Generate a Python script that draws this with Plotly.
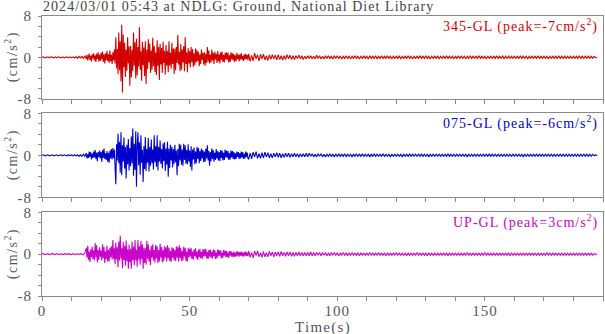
import numpy as np
import plotly.graph_objects as go

# Sampling of the listed values: pre-event 0-14.5 s every 0.5 s,
# main shaking 15-69.75 s every 0.25 s, coda 70-188 s every 0.5 s
PRE_T0, PRE_DT = 0.0, 0.5
MAIN_T0, MAIN_DT = 15.0, 0.25
CODA_T0, CODA_DT = 70.0, 0.5

# ---------------- 345-GL (cm/s^2) ----------------
ns_pre = [
    0.0, 0.1, -0.1, 0.0, 0.1, -0.1, 0.1, 0.0, -0.1, 0.1,
    -0.1, 0.1, 0.0, -0.1, 0.1, -0.1, 0.0, 0.1, -0.1, 0.1,
    -0.1, 0.1, -0.1, 0.1, -0.2, 0.2, -0.1, 0.2, -0.2, 0.3,
]
ns_main = [
    -0.3, 0.5, -0.6, 0.2, 0.7, -0.5, 0.3, -0.8, 0.6, -0.2,
    0.8, -0.6, 0.4, -0.9, 0.7, -0.3, 1.0, -0.8, 0.5, -0.7,
    0.9, -0.4, 1.1, -0.9, 0.6, -1.2, 0.8, -0.5, 1.2, -0.7,
    0.6, -1.1, 1.3, -0.8, 0.5, -1.3, 1.0, -0.6, 1.5, -1.2,
    3.9, -2.1, 1.6, -3.2, 4.8, -2.5, 3.1, -4.6, 6.3, -6.8,
    4.4, -1.9, 2.8, -3.8, 1.5, -2.6, 3.9, -1.2, 2.1, -5.5,
    2.2, -3.9, 1.4, -2.7, 4.8, -1.6, 2.9, -4.1, 3.6, -3.5,
    2.0, -1.8, 5.8, -2.4, 1.2, -4.5, 3.0, -1.5, 1.9, -3.6,
    3.1, -5.2, 1.5, -2.2, 3.5, -1.0, 2.7, -3.0, 1.3, -2.4,
    3.8, -1.7, 2.2, -2.9, 1.0, -3.4, 3.3, -1.6, 2.0, -4.4,
    2.6, -1.4, 1.8, -3.0, 3.0, -1.1, 1.2, -3.3, 2.4, -1.6,
    1.2, -2.9, 3.1, -1.6, 0.9, -2.2, 2.8, -1.3, 1.7, -3.2,
    1.7, -2.5, 2.0, -1.1, 4.3, -1.4, 1.1, -2.7, 2.6, -2.4,
    1.5, -1.0, 2.2, -2.7, 3.9, -1.3, 1.0, -2.9, 1.8, -1.2,
    1.2, -1.9, 2.0, -0.9, 1.6, -1.8, 0.8, -1.5, 1.7, -1.0,
    1.4, -0.7, 1.1, -1.7, 0.6, -1.3, 1.5, -0.5, 0.9, -1.4,
    1.0, -1.6, 0.7, -1.1, 2.0, -0.8, 1.3, -1.2, 0.5, -1.0,
    1.5, -0.6, 0.9, -1.3, 1.1, -0.4, 0.7, -1.1, 1.2, -0.8,
    0.6, -1.2, 1.0, -0.5, 1.1, -0.9, 0.5, -1.0, 0.9, -0.4,
    1.0, -0.5, 0.9, -1.0, 0.4, -0.9, 1.0, -0.4, 0.8, -0.6,
    0.7, -0.9, 0.4, -0.7, 0.9, -0.3, 0.5, -0.8, 0.6, -0.4,
    0.8, -0.5, 0.3, -0.7, 0.6, -0.4, 0.7, -0.3, 0.5, -0.6,
]
ns_coda = [
    0.7, -0.8, 0.4, -0.7, 0.8, -0.3, 0.5, -0.7, 0.6, -0.3,
    0.6, -0.5, 0.3, -0.6, 0.5, -0.4, 0.5, -0.3, 0.4, -0.5,
    0.5, -0.4, 0.3, -0.5, 0.3, -0.4, 0.5, -0.3, 0.4, -0.4,
    0.3, -0.4, 0.3, -0.2, 0.4, -0.3, 0.3, -0.4, 0.2, -0.3,
    0.3, -0.2, 0.3, -0.3, 0.2, -0.3, 0.4, -0.2, 0.3, -0.3,
    0.2, -0.3, 0.3, -0.2, 0.3, -0.2, 0.2, -0.3, 0.3, -0.2,
    0.3, -0.2, 0.2, -0.3, 0.2, -0.2, 0.3, -0.2, 0.2, -0.3,
    0.2, -0.2, 0.3, -0.2, 0.2, -0.3, 0.2, -0.2, 0.3, -0.2,
    0.2, -0.3, 0.3, -0.2, 0.2, -0.2, 0.3, -0.3, 0.2, -0.2,
    0.3, -0.2, 0.2, -0.2, 0.3, -0.2, 0.2, -0.3, 0.2, -0.2,
    0.2, -0.2, 0.3, -0.3, 0.2, -0.2, 0.2, -0.2, 0.3, -0.2,
    0.2, -0.3, 0.2, -0.2, 0.2, -0.2, 0.3, -0.2, 0.2, -0.2,
    0.3, -0.2, 0.2, -0.3, 0.2, -0.2, 0.2, -0.2, 0.3, -0.3,
    0.2, -0.2, 0.2, -0.2, 0.3, -0.2, 0.2, -0.2, 0.2, -0.3,
    0.2, -0.2, 0.3, -0.2, 0.2, -0.2, 0.2, -0.3, 0.2, -0.2,
    0.3, -0.2, 0.2, -0.2, 0.2, -0.2, 0.3, -0.2, 0.2, -0.2,
    0.2, -0.3, 0.2, -0.2, 0.2, -0.2, 0.2, -0.2, 0.3, -0.2,
    0.2, -0.2, 0.3, -0.3, 0.2, -0.2, 0.2, -0.2, 0.2, -0.2,
    0.2, -0.2, 0.2, -0.2, 0.3, -0.2, 0.2, -0.2, 0.2, -0.3,
    0.2, -0.2, 0.2, -0.2, 0.2, -0.2, 0.3, -0.2, 0.2, -0.2,
    0.2, -0.2, 0.2, -0.3, 0.2, -0.2, 0.2, -0.2, 0.2, -0.2,
    0.3, -0.2, 0.2, -0.2, 0.2, -0.2, 0.2, -0.2, 0.2, -0.2,
    0.2, -0.2, 0.2, -0.2, 0.3, -0.2, 0.2, -0.2, 0.2, -0.2,
    0.2, -0.2, 0.2, -0.2, 0.2, -0.1, 0.1,
]

# ---------------- 075-GL ----------------
ew_pre = [
    0.0, 0.1, -0.1, 0.0, 0.1, -0.1, 0.0, 0.1, -0.1, 0.0,
    0.1, -0.1, 0.0, 0.1, -0.1, 0.1, 0.0, -0.1, 0.1, -0.1,
    0.1, -0.1, 0.1, -0.1, 0.1, -0.2, 0.1, -0.2, 0.2, -0.2,
]
ew_main = [
    0.4, -0.6, 0.2, -0.5, 0.7, -0.3, 0.6, -0.8, 0.3, -0.5,
    0.7, -0.4, 1.0, -0.7, 0.5, -1.1, 0.6, -0.3, 0.9, -0.6,
    0.6, -1.2, 1.0, -0.5, 1.3, -0.7, 0.4, -0.9, 0.8, -1.2,
    0.5, -1.4, 0.9, -0.6, 1.2, -0.8, 1.4, -0.5, 1.1, -1.3,
    -5.5, 2.1, -1.0, 4.1, -1.5, 2.6, -3.3, 4.4, -3.8, 1.9,
    -1.2, 3.4, -2.5, 1.6, -4.4, 2.0, -1.7, 3.1, -2.9, 1.4,
    -2.1, 3.6, -1.5, 5.1, -3.9, 2.2, -2.8, 4.6, -6.0, 2.0,
    4.4, -1.9, 2.5, -3.7, 3.8, -1.4, 1.0, -5.1, 1.7, -2.6,
    3.5, -3.0, 1.2, -1.4, 3.3, -3.1, 1.6, -2.0, 3.0, -1.5,
    1.1, -2.7, 3.8, -1.3, 1.7, -2.2, 3.8, -2.9, 1.6, -1.2,
    2.8, -1.6, 1.2, -2.5, 2.3, -1.1, 2.5, -3.0, 1.3, -1.8,
    2.6, -4.1, 1.3, -2.4, 2.0, -1.0, 1.6, -2.3, 1.2, -1.6,
    2.0, -1.3, 0.9, -3.8, 1.2, -2.1, 2.2, -1.0, 2.0, -1.8,
    1.1, -2.0, 2.2, -0.9, 1.9, -1.6, 1.0, -1.7, 2.1, -1.2,
    0.9, -2.2, 1.7, -2.9, 1.1, -0.8, 1.5, -1.7, 0.7, -1.5,
    1.6, -0.7, 1.4, -1.5, 0.8, -1.1, 1.3, -0.6, 1.0, -1.3,
    0.7, -1.2, 1.3, -0.6, 1.9, -1.0, 0.8, -2.0, 0.6, -1.1,
    1.3, -0.7, 1.0, -1.2, 0.5, -0.9, 1.2, -0.6, 0.8, -1.0,
    0.6, -1.1, 1.0, -0.5, 0.9, -1.0, 0.5, -0.9, 1.1, -0.4,
    0.9, -0.5, 0.8, -0.9, 0.4, -0.8, 0.9, -0.4, 0.8, -0.7,
    0.6, -0.8, 0.4, -0.7, 0.7, -0.3, 0.6, -0.7, 0.4, -0.6,
    0.7, -0.4, 0.6, -0.7, 0.3, -0.6, 0.7, -0.3, 0.5, -0.6,
]
ew_coda = [
    -0.7, 0.4, -0.7, 0.6, -0.3, 0.7, -0.6, 0.3, -0.6, 0.5,
    -0.5, 0.6, -0.3, 0.5, -0.5, 0.3, -0.5, 0.4, -0.3, 0.5,
    -0.4, 0.4, -0.5, 0.3, -0.4, 0.4, -0.3, 0.4, -0.4, 0.3,
    -0.3, 0.4, -0.3, 0.3, -0.4, 0.3, -0.3, 0.3, -0.3, 0.4,
    -0.3, 0.4, -0.2, 0.3, -0.3, 0.2, -0.3, 0.3, -0.2, 0.3,
    -0.3, 0.2, -0.3, 0.2, -0.2, 0.3, -0.2, 0.2, -0.3, 0.2,
    -0.2, 0.3, -0.2, 0.2, -0.2, 0.3, -0.3, 0.2, -0.2, 0.2,
    -0.3, 0.2, -0.2, 0.3, -0.2, 0.2, -0.2, 0.3, -0.2, 0.2,
    -0.2, 0.2, -0.3, 0.2, -0.2, 0.3, -0.2, 0.2, -0.2, 0.2,
    -0.2, 0.3, -0.2, 0.2, -0.2, 0.2, -0.3, 0.2, -0.2, 0.2,
    -0.2, 0.2, -0.2, 0.2, -0.3, 0.2, -0.2, 0.2, -0.2, 0.3,
    -0.2, 0.2, -0.2, 0.2, -0.2, 0.2, -0.2, 0.3, -0.2, 0.2,
    -0.2, 0.2, -0.3, 0.2, -0.2, 0.2, -0.2, 0.2, -0.2, 0.2,
    -0.2, 0.2, -0.2, 0.2, -0.2, 0.3, -0.2, 0.2, -0.2, 0.2,
    -0.2, 0.2, -0.2, 0.2, -0.2, 0.2, -0.2, 0.2, -0.3, 0.2,
    -0.2, 0.2, -0.2, 0.2, -0.2, 0.2, -0.2, 0.2, -0.2, 0.2,
    -0.2, 0.2, -0.2, 0.3, -0.2, 0.2, -0.2, 0.2, -0.2, 0.2,
    -0.2, 0.2, -0.2, 0.2, -0.2, 0.2, -0.2, 0.2, -0.2, 0.2,
    -0.2, 0.2, -0.2, 0.2, -0.2, 0.2, -0.3, 0.2, -0.2, 0.2,
    -0.2, 0.2, -0.2, 0.2, -0.2, 0.2, -0.2, 0.2, -0.2, 0.2,
    -0.2, 0.2, -0.2, 0.2, -0.2, 0.2, -0.2, 0.2, -0.2, 0.2,
    -0.2, 0.2, -0.2, 0.2, -0.2, 0.2, -0.2, 0.2, -0.2, 0.2,
    -0.2, 0.2, -0.2, 0.2, -0.2, 0.2, -0.2, 0.2, -0.2, 0.2,
    -0.2, 0.2, -0.2, 0.2, -0.1, 0.1, -0.1,
]

# ---------------- UP-GL ----------------
ud_pre = [
    0.0, 0.1, -0.1, 0.0, 0.1, -0.1, 0.0, 0.1, 0.0, -0.1,
    0.1, 0.0, -0.1, 0.1, -0.1, 0.0, 0.1, -0.1, 0.1, 0.0,
    -0.1, 0.1, 0.0, -0.1, 0.1, -0.1, 0.1, 0.0, -0.1, 0.2,
]
ud_main = [
    1.2, -0.7, 1.6, -1.1, 0.5, -1.5, 0.9, -0.6, 1.4, -0.9,
    0.7, -1.2, 2.1, -0.6, 1.7, -1.6, 0.8, -1.1, 1.3, -0.5,
    0.7, -1.2, 1.9, -0.8, 1.4, -1.7, 0.5, -0.9, 1.6, -1.4,
    0.8, -1.4, 1.2, -0.6, 1.5, -1.0, 2.7, -0.9, 1.1, -1.9,
    2.2, -1.0, 1.3, -2.5, 2.4, -1.2, 3.5, -0.8, 1.1, -2.7,
    2.3, -1.1, 1.6, -2.2, 2.6, -1.3, 0.9, -2.8, 1.8, -1.5,
    1.0, -2.8, 2.4, -1.1, 1.4, -2.1, 2.7, -1.2, 0.8, -2.4,
    2.7, -1.0, 1.5, -2.0, 2.5, -0.9, 1.9, -2.8, 1.2, -1.7,
    1.1, -2.0, 2.5, -0.9, 1.9, -1.4, 0.8, -2.1, 1.6, -0.7,
    1.9, -1.2, 0.8, -1.6, 1.8, -0.8, 1.5, -1.7, 0.8, -1.4,
    2.0, -0.7, 1.4, -1.6, 0.8, -1.3, 1.5, -0.7, 1.3, -1.4,
    1.7, -0.8, 1.2, -1.3, 0.6, -1.5, 1.3, -0.7, 1.1, -1.2,
    0.8, -1.3, 1.5, -0.7, 1.3, -1.4, 1.7, -0.8, 1.2, -1.3,
    0.6, -1.2, 1.4, -0.5, 1.2, -1.3, 0.5, -1.4, 1.2, -0.6,
    1.0, -0.5, 1.2, -0.9, 0.5, -1.0, 0.9, -0.4, 1.1, -0.8,
    0.5, -1.1, 0.9, -0.6, 1.0, -0.8, 0.4, -0.9, 1.0, -0.5,
    0.9, -0.4, 1.0, -0.8, 0.4, -0.9, 0.8, -0.5, 0.9, -0.7,
    0.4, -0.8, 0.9, -0.4, 0.8, -0.9, 0.3, -0.8, 0.9, -0.4,
    0.8, -0.3, 0.7, -0.8, 0.3, -0.7, 0.8, -0.3, 0.7, -0.6,
    0.6, -0.6, 0.3, -0.7, 0.6, -0.3, 0.6, -0.5, 0.3, -0.6,
    0.5, -0.5, 0.3, -0.5, 0.6, -0.3, 0.4, -0.5, 0.4, -0.3,
    0.5, -0.4, 0.3, -0.5, 0.4, -0.3, 0.5, -0.4, 0.3, -0.4,
]
ud_coda = [
    0.6, -0.6, 0.3, -0.7, 0.6, -0.3, 0.6, -0.5, 0.3, -0.6,
    0.5, -0.5, 0.3, -0.5, 0.5, -0.3, 0.4, -0.5, 0.4, -0.3,
    0.4, -0.4, 0.5, -0.3, 0.3, -0.4, 0.4, -0.3, 0.4, -0.4,
    0.3, -0.4, 0.3, -0.3, 0.4, -0.3, 0.3, -0.3, 0.3, -0.3,
    0.3, -0.3, 0.4, -0.3, 0.3, -0.3, 0.3, -0.2, 0.3, -0.3,
    0.3, -0.2, 0.3, -0.3, 0.2, -0.3, 0.3, -0.2, 0.3, -0.2,
    0.2, -0.3, 0.2, -0.2, 0.3, -0.2, 0.2, -0.3, 0.2, -0.2,
    0.3, -0.2, 0.2, -0.2, 0.2, -0.3, 0.2, -0.2, 0.2, -0.2,
    0.2, -0.2, 0.3, -0.2, 0.2, -0.2, 0.2, -0.2, 0.3, -0.2,
    0.2, -0.2, 0.2, -0.3, 0.2, -0.2, 0.2, -0.2, 0.2, -0.2,
    0.3, -0.2, 0.2, -0.2, 0.2, -0.2, 0.2, -0.3, 0.2, -0.2,
    0.2, -0.2, 0.2, -0.2, 0.3, -0.2, 0.2, -0.2, 0.2, -0.2,
    0.2, -0.3, 0.2, -0.2, 0.2, -0.2, 0.2, -0.2, 0.2, -0.2,
    0.2, -0.2, 0.2, -0.2, 0.2, -0.3, 0.2, -0.2, 0.2, -0.2,
    0.2, -0.2, 0.2, -0.2, 0.2, -0.2, 0.2, -0.2, 0.3, -0.2,
    0.2, -0.2, 0.2, -0.2, 0.2, -0.2, 0.2, -0.2, 0.2, -0.2,
    0.3, -0.2, 0.2, -0.2, 0.2, -0.2, 0.2, -0.2, 0.2, -0.2,
    0.2, -0.2, 0.2, -0.2, 0.2, -0.2, 0.2, -0.3, 0.2, -0.2,
    0.2, -0.2, 0.2, -0.2, 0.2, -0.2, 0.2, -0.2, 0.2, -0.2,
    0.2, -0.2, 0.2, -0.2, 0.2, -0.2, 0.2, -0.2, 0.2, -0.2,
    0.2, -0.2, 0.3, -0.2, 0.2, -0.2, 0.2, -0.2, 0.2, -0.2,
    0.2, -0.2, 0.2, -0.2, 0.2, -0.2, 0.2, -0.2, 0.2, -0.2,
    0.2, -0.2, 0.2, -0.2, 0.2, -0.2, 0.2, -0.2, 0.2, -0.2,
    0.2, -0.2, 0.2, -0.2, 0.1, -0.1, 0.1,
]

series_names = ["345-GL", "075-GL", "UP-GL"]
peak_labels = ["-7", "-6", "3"]
series_colors = ["#d40000", "#0000cc", "#cc00cc"]
series_segments = [(ns_pre, ns_main, ns_coda),
                   (ew_pre, ew_main, ew_coda),
                   (ud_pre, ud_main, ud_coda)]
title_text = "2024/03/01 05:43 at NDLG: Ground, National Diet Library"

FONT = "Liberation Serif"
GRID = "#8a8a8a"
TXT = "#555555"

W, H = 605, 334
ML, MR, MT, MB = 42, 2, 16, 38
domains = [[0.7046, 1.0], [0.3525, 0.6525], [0.0, 0.299]]


def spaced(s, sp=1):
    return f'<span style="letter-spacing:{sp}px">{s}</span>'


def sample_times(pre, main, coda):
    return np.concatenate([PRE_T0 + PRE_DT * np.arange(len(pre)),
                           MAIN_T0 + MAIN_DT * np.arange(len(main)),
                           CODA_T0 + CODA_DT * np.arange(len(coda))])


fig = go.Figure()
for i, (segs, col) in enumerate(zip(series_segments, series_colors)):
    t = sample_times(*segs)
    vals = list(segs[0]) + list(segs[1]) + list(segs[2])
    ax = "" if i == 0 else str(i + 1)
    fig.add_trace(go.Scatter(x=t, y=vals, mode="lines",
                             line=dict(color=col, width=1.1),
                             xaxis="x" + ax, yaxis="y" + ax,
                             hoverinfo="skip", showlegend=False))

layout = dict(width=W, height=H, margin=dict(l=ML, r=MR, t=MT, b=MB),
              paper_bgcolor="white", plot_bgcolor="white",
              font=dict(family=FONT, size=15, color=TXT))
for i in range(3):
    ax = "" if i == 0 else str(i + 1)
    layout["xaxis" + ax] = dict(
        domain=[0, 1], range=[0, 190], anchor="y" + ax,
        showline=True, linecolor=GRID, linewidth=1, mirror=True,
        showgrid=False, zeroline=False,
        ticks="outside", ticklen=4, tickcolor=GRID, tickwidth=1,
        tickvals=[0, 50, 100, 150],
        ticktext=[spaced(v) for v in ["0", "50", "100", "150"]],
        showticklabels=(i == 2), ticklabelstandoff=-3,
        tickfont=dict(family=FONT, size=15, color=TXT),
        minor=dict(dtick=10, tick0=0, ticks="outside", ticklen=4,
                   tickcolor=GRID, tickwidth=1, showgrid=False),
    )
    layout["yaxis" + ax] = dict(
        domain=domains[i], range=[-8, 8], anchor="x" + ax,
        showline=True, linecolor=GRID, linewidth=1, mirror=True,
        showgrid=False, zeroline=False,
        ticks="outside", ticklen=3, tickcolor=GRID, tickwidth=1,
        tickvals=[-8, 0, 8], ticktext=[spaced(v) for v in ["-8", "0", "8"]],
        ticklabelstandoff=3,
        tickfont=dict(family=FONT, size=15, color=TXT),
        minor=dict(dtick=2, tick0=0, ticks="outside", ticklen=3,
                   tickcolor=GRID, tickwidth=1, showgrid=False),
    )
fig.update_layout(**layout)

ph = H - MT - MB
pw = W - ML - MR


def py(pix):
    return (H - MB - pix) / ph


def px(pix):
    return (pix - ML) / pw


annos = []
annos.append(dict(text=spaced(title_text, 1.05), xref="paper", yref="paper",
                  x=px(41), y=py(7), xanchor="left", yanchor="middle",
                  showarrow=False, font=dict(family=FONT, size=14, color="#444444")))
label_y = [25, 122.3, 221.3]
ycenter = [57.3, 155.3, 254.2]
for i in range(3):
    annos.append(dict(text=spaced(f"{series_names[i]} (peak={peak_labels[i]}cm/s<sup>2</sup>)", 1),
                      xref="paper", yref="paper", x=px(600), y=py(label_y[i]),
                      xanchor="right", yanchor="middle", showarrow=False,
                      font=dict(family=FONT, size=14, color=series_colors[i])))
    annos.append(dict(text=spaced("(cm/s<sup>2</sup>)", 1.5), xref="paper", yref="paper",
                      x=px(11), y=py(ycenter[i]), xanchor="center", yanchor="middle",
                      textangle=-90, showarrow=False,
                      font=dict(family=FONT, size=14, color=TXT)))
annos.append(dict(text=spaced("Time(s)", 1.3), xref="paper", yref="paper",
                  x=px(323), y=py(327), xanchor="center", yanchor="middle",
                  showarrow=False, font=dict(family=FONT, size=15, color=TXT)))
fig.update_layout(annotations=annos)

fig.write_html("out.html")
